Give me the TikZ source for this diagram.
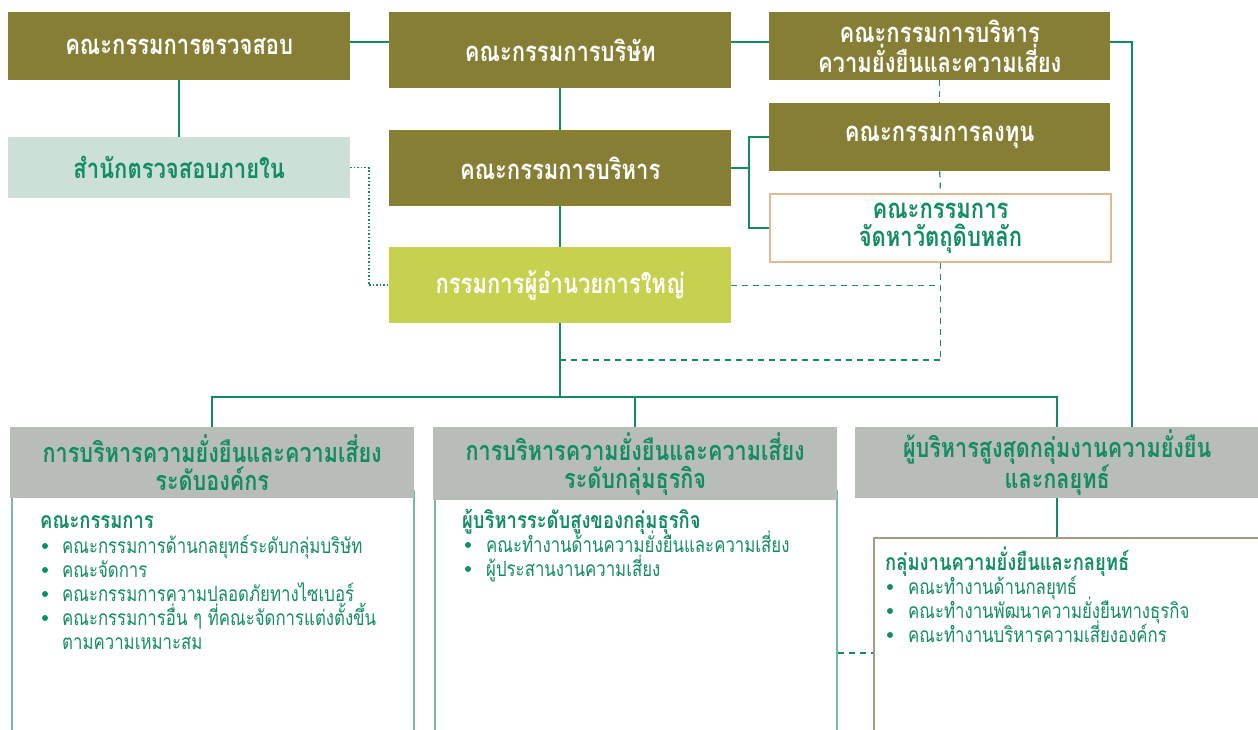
\documentclass[tikz,border=0pt]{standalone}
\usepackage{fontspec}
\setmainfont[Script=Thai, FakeStretch=0.8]{Loma}
\definecolor{boardolive}{RGB}{133,126,52}
\definecolor{auditmint}{RGB}{204,224,216}
\definecolor{ceogreen}{RGB}{198,209,80}
\definecolor{linegreen}{RGB}{18,140,100}
\definecolor{headgrey}{RGB}{185,189,184}
\definecolor{peach}{RGB}{226,184,148}
\definecolor{panelgreen}{RGB}{120,185,155}
\definecolor{stratbrown}{RGB}{168,154,130}
\tikzset{
olivebox/.style={rectangle, anchor=north west, inner sep=0pt, fill=boardolive, text=white, align=center,
  font=\bfseries\fontsize{27.5}{28}\selectfont, minimum width=341pt, minimum height=68pt},
greybox/.style={rectangle, anchor=north west, inner sep=0pt, fill=headgrey, text=linegreen, align=center,
  font=\bfseries\fontsize{27}{28}\selectfont, minimum width=403pt, minimum height=71pt},
panel/.style={rectangle, anchor=north west, inner sep=0pt, draw=panelgreen, line width=2pt, minimum width=402pt, minimum height=260pt},
stratbox/.style={rectangle, anchor=north west, inner sep=0pt, draw=stratbrown, line width=2pt, minimum width=400pt, minimum height=220pt},
listhead/.style={anchor=base west, inner sep=0pt, text=linegreen, font=\bfseries\fontsize{23}{24}\selectfont},
listitem/.style={anchor=base west, inner sep=0pt, text=linegreen, font=\fontsize{21}{24}\selectfont},
link/.style={draw=linegreen, line width=1.6pt},
dotlink/.style={draw=linegreen, line width=1.5pt, dotted},
dashlink/.style={draw=linegreen, line width=1.2pt, dash pattern=on 6pt off 5pt}
}
\begin{document}
\begin{tikzpicture}[x=1pt,y=-1pt]
\useasboundingbox (0,0) rectangle (1258,730);
\coordinate (topline) at (0,42);
\coordinate (rline) at (1132,0);
\coordinate (ebus) at (749,170);
\coordinate (dotx) at (369,0);
\coordinate (midline) at (0,360);
\coordinate (busline) at (0,397);

\node[olivebox, minimum width=342pt] (audit) at (8,12) {คณะกรรมการตรวจสอบ};
\node[olivebox, minimum width=342pt, minimum height=76pt] (board) at (389,12) {คณะกรรมการบริษัท};
\node[olivebox] (riskcom) at (769,12) {คณะกรรมการบริหาร\\ความยั่งยืนและความเสี่ยง};
\node[olivebox, minimum width=342pt, minimum height=61pt, fill=auditmint, text=linegreen] (internal) at (8,137) {สำนักตรวจสอบภายใน};
\node[olivebox, minimum width=342pt, minimum height=76pt] (exec) at (389,130) {คณะกรรมการบริหาร};
\node[olivebox] (invest) at (769,103) {คณะกรรมการลงทุน};
\node[olivebox, fill=white, text=linegreen, draw=peach, line width=2pt] (procure) at (769,193) {คณะกรรมการ\\จัดหาวัตถุดิบหลัก};
\node[olivebox, minimum width=342pt, minimum height=76pt, fill=ceogreen] (ceo) at (389,247) {กรรมการผู้อำนวยการใหญ่};

\node[panel] (orgpanel) at (11,490) {};
\node[panel] (bizpanel) at (434,490) {};
\node[greybox, minimum width=404pt] (orgrisk) at (10,427) {การบริหารความยั่งยืนและความเสี่ยง\\ระดับองค์กร};
\node[greybox, minimum width=404pt, minimum height=73pt] (bizrisk) at (433,427) {การบริหารความยั่งยืนและความเสี่ยง\\ระดับกลุ่มธุรกิจ};
\node[greybox, minimum width=404pt] (cso) at (855,427) {ผู้บริหารสูงสุดกลุ่มงานความยั่งยืน\\และกลยุทธ์};
\node[stratbox] (strat) at (873,537) {};

\draw[link] (audit.east |- topline) -- (board.west |- topline);
\draw[link] (board.east |- topline) -- (riskcom.west |- topline);
\draw[link] (riskcom.east |- topline) -| (rline |- cso.north);
\draw[link] (audit.south) -- (internal.north);
\draw[link] (board.south) -- (exec.north);
\draw[link] (exec.south) -- (ceo.north);
\draw[link] (exec.east) -- (exec.east -| ebus);
\draw[link] (invest.west) -| (ebus) |- (procure.west);
\draw[dotlink] (internal.east) -| (dotx |- ceo.west) -- (ceo.west);
\draw[dashlink] (riskcom.south) -- (invest.north);
\draw[dashlink] (invest.south) -- (procure.north);
\draw[dashlink] (procure.south) -- (procure.south |- midline);
\draw[dashlink] (ceo.east) -- (ceo.east -| procure.south);
\draw[dashlink] (ceo.south |- midline) -- (procure.south |- midline);
\draw[link] (ceo.south) -- (ceo.south |- busline);
\draw[link] (orgrisk.north) |- (cso.north |- busline) -- (cso.north);
\draw[link] (bizrisk.north) -- (bizrisk.north |- busline);
\draw[link] (cso.south) -- (cso.south |- strat.north);
\draw[dashlink] (bizpanel.east |- 0,653) -- (strat.west |- 0,653);

\node[listhead] (orghead) at (40,528) {คณะกรรมการ};
\foreach \y/\t [count=\i] in {553/คณะกรรมการด้านกลยุทธ์ระดับกลุ่มบริษัท, 577/คณะจัดการ, 601/คณะกรรมการความปลอดภัยทางไซเบอร์, 625/คณะกรรมการอื่น ๆ ที่คณะจัดการแต่งตั้งขึ้น}{
  \fill[linegreen] (45,\y-7) circle [radius=3pt];
  \node[listitem] (orgitem\i) at (62,\y) {\t};
}
\node[listitem] (orgitem5) at (62,649) {ตามความเหมาะสม};

\node[listhead] (bizhead) at (462,528) {ผู้บริหารระดับสูงของกลุ่มธุรกิจ};
\foreach \y/\t [count=\i] in {552/คณะทำงานด้านความยั่งยืนและความเสี่ยง, 576/ผู้ประสานงานความเสี่ยง}{
  \fill[linegreen] (468,\y-7) circle [radius=3pt];
  \node[listitem] (bizitem\i) at (486,\y) {\t};
}

\node[listhead] (strathead) at (885,570) {กลุ่มงานความยั่งยืนและกลยุทธ์};
\foreach \y/\t [count=\i] in {594/คณะทำงานด้านกลยุทธ์, 618/คณะทำงานพัฒนาความยั่งยืนทางธุรกิจ, 642/คณะทำงานบริหารความเสี่ยงองค์กร}{
  \fill[linegreen] (890,\y-7) circle [radius=3pt];
  \node[listitem] (stratitem\i) at (908,\y) {\t};
}
\end{tikzpicture}
\end{document}
